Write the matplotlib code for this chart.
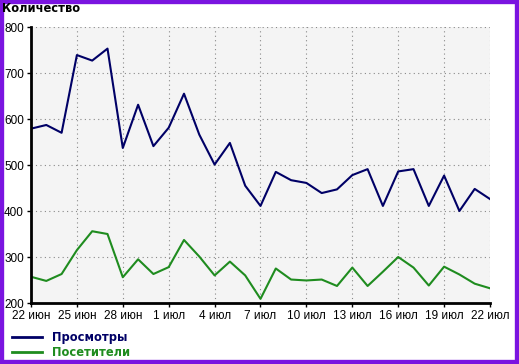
import numpy as np
import matplotlib.pyplot as plt
from matplotlib.patches import Rectangle
from matplotlib.lines import Line2D

# Data: daily counts 22 Jun - 22 Jul
days = np.arange(31)
views = [579, 587, 570, 739, 727, 753, 537, 631, 541, 581, 655, 566, 501, 548, 455,
         411, 485, 467, 461, 439, 447, 478, 491, 411, 486, 491, 411, 477, 400, 448, 426]
visitors = [257, 248, 263, 315, 356, 350, 256, 295, 263, 278, 337, 301, 260, 290, 260,
            209, 275, 251, 249, 251, 237, 277, 237, 268, 300, 277, 238, 279, 262, 242, 232]
tick_days = np.arange(0, 31, 3)
tick_labels = ["22 июн", "25 июн", "28 июн", "1 июл", "4 июл", "7 июл",
               "10 июл", "13 июл", "16 июл", "19 июл", "22 июл"]

W, H = 519, 364
fig = plt.figure(figsize=(W / 100, H / 100), dpi=100)
fig.patch.set_facecolor("white")
plt.rcParams['font.family'] = ['Liberation Sans', 'DejaVu Sans']

ax = fig.add_axes([31 / W, 1 - 303 / H, (490 - 31) / W, (303 - 27) / H])
ax.set_facecolor("#f4f4f4")
ax.plot(days, views, color="#000066", lw=1.5)
ax.plot(days, visitors, color="#1f8c1f", lw=1.5)

ax.set_xlim(0, 30)
ax.set_ylim(200, 800)
ax.set_xticks(tick_days)
ax.set_xticklabels(tick_labels)
ax.set_yticks(np.arange(200, 801, 100))
ax.tick_params(labelsize=8.5, length=3, width=1, color="black", pad=2)
ax.grid(True, linestyle=(0, (1, 3)), color="#888888", lw=0.8)
for s in ["top", "right"]:
    ax.spines[s].set_visible(False)
for s in ["left", "bottom"]:
    ax.spines[s].set_linewidth(2)

bold = dict(family="DejaVu Sans", fontweight="bold", fontsize=8.3)
fig.text(2 / W, 1 - 9 / H, "Количество", va="center", ha="left", **bold)

# legend
for y, c, lbl in [(337, "#000066", "Просмотры"), (352, "#1f8c1f", "Посетители")]:
    fig.add_artist(Line2D([12 / W, 42 / W], [1 - y / H, 1 - y / H], color=c, lw=2))
    fig.text(52 / W, 1 - (y + 1) / H, lbl, color=c, va="center", **bold)

# purple frame
fig.add_artist(Rectangle((0, 0), 1, 1, transform=fig.transFigure, fill=False,
                         edgecolor="#7a14e0", lw=6))

fig.savefig("out.png", dpi=100)
